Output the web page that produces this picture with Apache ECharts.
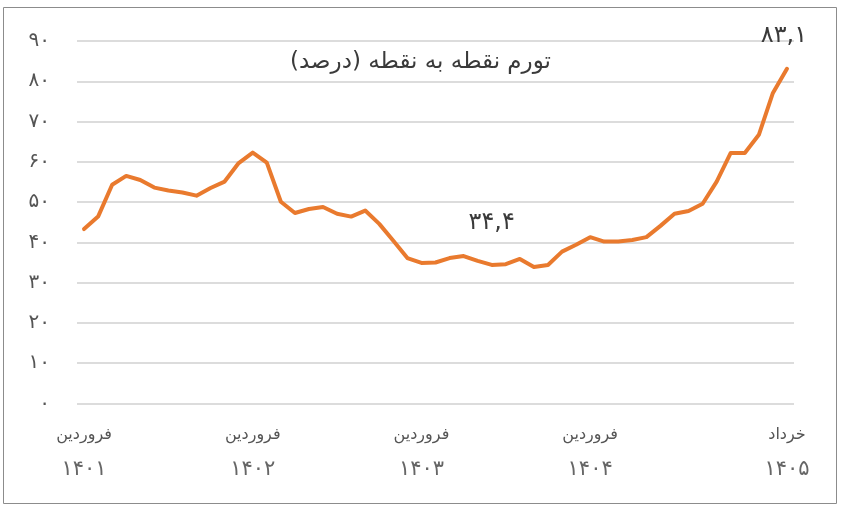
<!DOCTYPE html>
<html>
<head>
<meta charset="utf-8">
<script src="https://cdn.jsdelivr.net/npm/echarts@6/dist/echarts.min.js"></script>
<style>
  html, body { margin: 0; padding: 0; background: #fff; }
  #chart { width: 843px; height: 511px; }
</style>
</head>
<body>
<div id="chart"></div>
<script>
// ماه‌ها و سال‌ها
var months = ['فروردین', 'اردیبهشت', 'خرداد', 'تیر', 'مرداد', 'شهریور', 'مهر', 'آبان', 'آذر', 'دی', 'بهمن', 'اسفند'];
var years = ['۱۴۰۱', '۱۴۰۲', '۱۴۰۳', '۱۴۰۴', '۱۴۰۵'];

// تورم نقطه به نقطه (درصد)
var inflation = [
  43.3, 46.4, 54.3, 56.5, 55.5, 53.6, 52.9, 52.4, 51.6, 53.5, 55.1, 59.7,
  62.3, 59.8, 50.1, 47.3, 48.3, 48.8, 47.1, 46.4, 47.9, 44.6, 40.4, 36.1,
  34.9, 35.0, 36.1, 36.6, 35.4, 34.4, 34.6, 35.9, 33.9, 34.4, 37.7, 39.4,
  41.3, 40.2, 40.2, 40.6, 41.3, 44.1, 47.1, 47.8, 49.6, 55.1, 62.2, 62.2,
  66.7, 77.1, 83.1
];

var shownLabels = [0, 12, 24, 36, 50];
var annotated = [29, 50];

var toFa = function (v) {
  return String(v).replace(/\./g, ',').replace(/[0-9]/g, function (d) {
    return '۰۱۲۳۴۵۶۷۸۹'.charAt(+d);
  });
};

var categories = [];
for (var i = 0; i < inflation.length; i++) {
  categories.push(months[i % 12] + '|' + years[Math.floor(i / 12)]);
}

var font = 'DejaVu Sans';

var seriesData = inflation.map(function (v, idx) {
  if (annotated.indexOf(idx) < 0) return v;
  return {
    value: v,
    label: {
      show: true,
      position: 'top',
      distance: idx === 50 ? 21 : 30,
      offset: idx === 50 ? [-3, 0] : [0, 0],
      formatter: function (p) { return toFa(p.value); },
      fontFamily: font,
      fontSize: 24,
      color: '#3a3a3a'
    }
  };
});

var chart = echarts.init(document.getElementById('chart'));

chart.setOption({
  animation: false,
  backgroundColor: '#fff',
  title: {
    text: 'تورم نقطه به نقطه (درصد)',
    left: 285,
    top: 46,
    textStyle: { fontFamily: font, fontSize: 23, fontWeight: 'normal', color: '#3a3a3a' }
  },
  graphic: [{
    type: 'rect',
    shape: { x: 3.5, y: 7.5, width: 833, height: 496 },
    style: { fill: 'none', stroke: '#8c8c8c', lineWidth: 1 },
    silent: true
  }],
  grid: { left: 77, right: 49, top: 41, bottom: 107.5 },
  xAxis: {
    type: 'category',
    boundaryGap: true,
    data: categories,
    axisLine: { show: false },
    axisTick: { show: false },
    axisLabel: {
      interval: function (idx) { return shownLabels.indexOf(idx) >= 0; },
      margin: 14,
      formatter: function (v) {
        var parts = v.split('|');
        return '{m|' + parts[0] + '}\n{y|' + parts[1] + '}';
      },
      rich: {
        m: { fontFamily: font, fontSize: 16, color: '#555', lineHeight: 34 },
        y: { fontFamily: font, fontSize: 21, color: '#666', lineHeight: 36 }
      }
    }
  },
  yAxis: {
    type: 'value',
    min: 0,
    max: 90,
    interval: 10,
    axisLine: { show: false },
    axisTick: { show: false },
    axisLabel: {
      margin: 27,
      fontFamily: font,
      fontSize: 20,
      color: '#555',
      formatter: function (v) { return toFa(v); }
    },
    splitLine: { lineStyle: { color: '#d0d0d0', width: 1.5 } }
  },
  series: [{
    type: 'line',
    data: seriesData,
    symbol: 'circle',
    symbolSize: 0,
    showSymbol: true,
    lineStyle: { color: '#E97A2E', width: 4, join: 'round', cap: 'round' },
    itemStyle: { color: '#E97A2E' }
  }]
});
</script>
</body>
</html>
